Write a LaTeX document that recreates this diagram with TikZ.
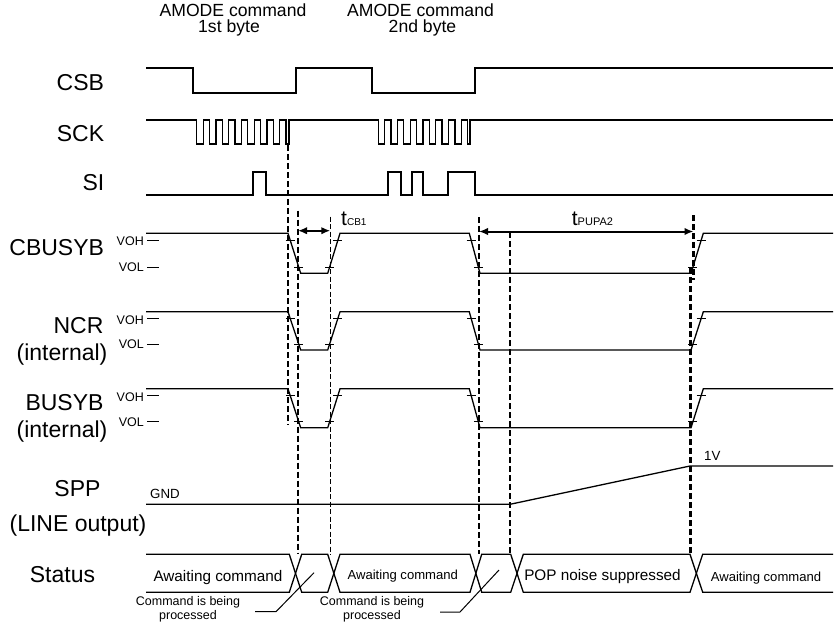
\documentclass[tikz,border=0pt]{standalone}
\usepackage{fontspec}
\setmainfont{Liberation Sans}
\usetikzlibrary{arrows.meta,calc}
\tikzset{
 lab/.style={font=\fontsize{23}{27}\selectfont, inner sep=0pt, anchor=base},
 lvl/.style={font=\fontsize{12.5}{14}\selectfont, inner sep=0pt, anchor=base east},
 statbig/.style={font=\fontsize{15.3}{18}\selectfont, inner sep=0pt, anchor=base},
 statsmall/.style={font=\fontsize{13.1}{15}\selectfont, inner sep=0pt, anchor=base},
 note/.style={font=\fontsize{12.5}{14}\selectfont, inner sep=0pt, anchor=base},
 toplab/.style={font=\fontsize{17.6}{20}\selectfont, inner sep=0pt, anchor=base},
 small/.style={font=\fontsize{13.3}{15}\selectfont, inner sep=0pt, anchor=base west},
 sig/.style={line width=1.3pt},
 hdash/.style={line width=2.1pt, dash pattern=on 6pt off 3pt},
 tdash/.style={line width=0.9pt, dash pattern=on 5pt off 2.5pt},
 dimarrow/.style={line width=2pt, {Latex[length=9pt,width=7.5pt]}-{Latex[length=9pt,width=7.5pt]}},
 tk/.style={line width=1pt},
 lead/.style={line width=1pt},
}
\newcommand\busysig[3]{%
 \pgfmathsetmacro\Hy{#1}\pgfmathsetmacro\Ly{#2}%
 \pgfmathsetmacro\Ay{#1+7}\pgfmathsetmacro\By{#2-6}%
 \pgfmathsetmacro\fa{7/(\Ly-\Hy)}\pgfmathsetmacro\fb{(\By-\Hy)/(\Ly-\Hy)}%
 \pgfmathsetmacro\ra{6/(\Ly-\Hy)}\pgfmathsetmacro\rb{(\Ly-\Ay)/(\Ly-\Hy)}%
 \draw[sig] (146,\Hy) -- (288,\Hy) -- (300.7,\Ly) -- (327.7,\Ly) -- (340,\Hy)
   -- (469.3,\Hy) -- (480,\Ly) -- (691,\Ly) -- (703.3,\Hy) -- (833,\Hy);
 \foreach \xa/\xb in {288/300.7, 469.3/480}{
   \draw[tk] ($(\xa,\Hy)!\fa!(\xb,\Ly)$) +(-4.5,0) -- +(4.5,0);
   \draw[tk] ($(\xa,\Hy)!\fb!(\xb,\Ly)$) +(-4.5,0) -- +(4.5,0);
 }
 \foreach \xa/\xb in {327.7/340, 691/703.3}{
   \draw[tk] ($(\xa,\Ly)!\ra!(\xb,\Hy)$) +(-4.5,0) -- +(4.5,0);
   \draw[tk] ($(\xa,\Ly)!\rb!(\xb,\Hy)$) +(-4.5,0) -- +(4.5,0);
 }
 \draw[tk] (147,\Ay) -- (159,\Ay);
 \draw[tk] (147,\By) -- (159,\By);
 \node[lvl] (#3voh) at (144,\Ay+5.5) {VOH};
 \node[lvl] (#3vol) at (144,\By+4.5) {VOL};
}
\begin{document}
\begin{tikzpicture}[x=1pt,y=-1pt]
\useasboundingbox (0,0) rectangle (835,624);
\fill[white] (0,0) rectangle (835,624);

% top labels
\node[toplab] (a1) at (233,16.5) {AMODE command};
\node[toplab] (a2) at (229,32.5) {1st byte};
\node[toplab] (b1) at (420.5,16.5) {AMODE command};
\node[toplab] (b2) at (422.5,32.5) {2nd byte};

% signal names
\node[lab] (ncsb) at (80.3,90) {CSB};
\node[lab] (nsck) at (80.5,141) {SCK};
\node[lab] (nsi) at (93.5,190) {SI};
\node[lab] (ncb) at (56.7,255) {CBUSYB};
\node[lab] (nncr) at (78.5,333) {NCR};
\node[lab] (nint1) at (62,360) {(internal)};
\node[lab] (nbus) at (64.5,410) {BUSYB};
\node[lab] (nint2) at (62,437) {(internal)};
\node[lab] (nspp) at (77.5,496) {SPP};
\node[lab] (nline) at (78,531) {(LINE output)};
\node[lab] (nstat) at (62.5,582) {Status};

% CSB
\draw[sig] (146,68) -- (193,68) -- (193,93) -- (296,93) -- (296,68) -- (372,68)
  -- (372,93) -- (475,93) -- (475,68) -- (833,68);
% SCK
\draw[sig] (146,120)
  foreach \k in {0,...,6} { -- ({196.7+12.76*\k},120) -- ++(0,24) -- ++(6.5,0) -- ++(0,-24) }
  -- (286,120) -- (286,144) -- (289,144) -- (289,120)
  foreach \k in {0,...,6} { -- ({378.3+12.76*\k},120) -- ++(0,24) -- ++(6.5,0) -- ++(0,-24) }
  -- (467.6,120) -- (467.6,144) -- (470,144) -- (470,120) -- (833,120);
% SI
\draw[sig] (146,195) -- (253,195) -- (253,172) -- (266,172) -- (266,195) -- (388,195)
  -- (388,172) -- (401,172) -- (401,195) -- (412,195) -- (412,172) -- (423,172)
  -- (423,195) -- (448,195) -- (448,172) -- (475,172) -- (475,195) -- (833,195);

% busy-type signals
\busysig{233.3}{273.3}{cb}
\busysig{311.8}{350}{ncr}
\busysig{388.8}{427.8}{bus}

% SPP
\draw[sig] (146,504.3) -- (510,504.3) -- (690,466) -- (833,466);
\node[small] (gnd) at (150,498) {GND};
\node[small] (onev) at (704,460) {1V};

% Status bus
\draw[sig] (146,554.3) -- (289.3,554.3) -- (301.7,592.3) -- (327.7,592.3) -- (340,554.3)
  -- (470,554.3) -- (481.7,592.3) -- (510.7,592.3) -- (523.3,554.3) -- (690,554.3)
  -- (702.7,592.3) -- (833,592.3);
\draw[sig] (146,592.3) -- (289.3,592.3) -- (301.7,554.3) -- (327.7,554.3) -- (340,592.3)
  -- (470,592.3) -- (481.7,554.3) -- (510.7,554.3) -- (523.3,592.3) -- (690,592.3)
  -- (702.7,554.3) -- (833,554.3);
\node[statbig] (s1) at (218,581.5) {Awaiting command};
\node[statsmall] (s2) at (402.8,579.5) {Awaiting command};
\node[statbig] (s3) at (602.5,580) {POP noise suppressed};
\node[statsmall] (s4) at (766,581) {Awaiting command};

% notes
\node[note] (c1a) at (188,605) {Command is being};
\node[note] (c1b) at (188,619.5) {processed};
\node[note] (c2a) at (372,605) {Command is being};
\node[note] (c2b) at (372,619.5) {processed};
\coordinate (l1a) at (255,611.7);
\coordinate (l1b) at (276,611.7);
\coordinate (l1c) at (314,572.7);
\coordinate (l2a) at (440,612);
\coordinate (l2b) at (460,612);
\coordinate (l2c) at (499,570);
\draw[lead] (l1a) -- (l1b) -- (l1c);
\draw[lead] (l2a) -- (l2b) -- (l2c);

% vertical guide lines
\coordinate (v1t) at (288,145);   \coordinate (v1b) at (288,425);
\coordinate (v2t) at (298,210.7); \coordinate (v2b) at (298,554);
\coordinate (v3t) at (330.3,216.7); \coordinate (v3b) at (330.3,555);
\coordinate (v4t) at (479,217);   \coordinate (v4b) at (479,554);
\coordinate (v5t) at (510,232);   \coordinate (v5b) at (510,554);
\coordinate (v6t) at (693.5,215); \coordinate (v6b) at (693.5,280);
\coordinate (v7t) at (690.5,268); \coordinate (v7b) at (690.5,554);
\draw[hdash] (v1t) -- (v1b);
\draw[hdash] (v2t) -- (v2b);
\draw[tdash] (v3t) -- (v3b);
\draw[hdash] (v4t) -- (v4b);
\draw[hdash] (v5t) -- (v5b);
\draw[hdash] (v6t) -- (v6b);
\draw[hdash] (v7t) -- (v7b);

% timing arrows
\coordinate (d1a) at (298,230.7);  \coordinate (d1b) at (330.3,230.7);
\coordinate (d2a) at (479,231.5);  \coordinate (d2b) at (693.5,231.5);
\draw[dimarrow] (d1a) -- (d1b);
\draw[dimarrow] (d2a) -- (d2b);
\node[inner sep=0pt, anchor=base west] (tcb) at (341,225)
  {{\fontsize{21}{24}\selectfont t}{\fontsize{10}{12}\selectfont CB1}};
\node[inner sep=0pt, anchor=base west] (tpu) at (571.7,225)
  {{\fontsize{21}{24}\selectfont t}{\fontsize{11}{13}\selectfont PUPA2}};
\end{tikzpicture}
\end{document}
